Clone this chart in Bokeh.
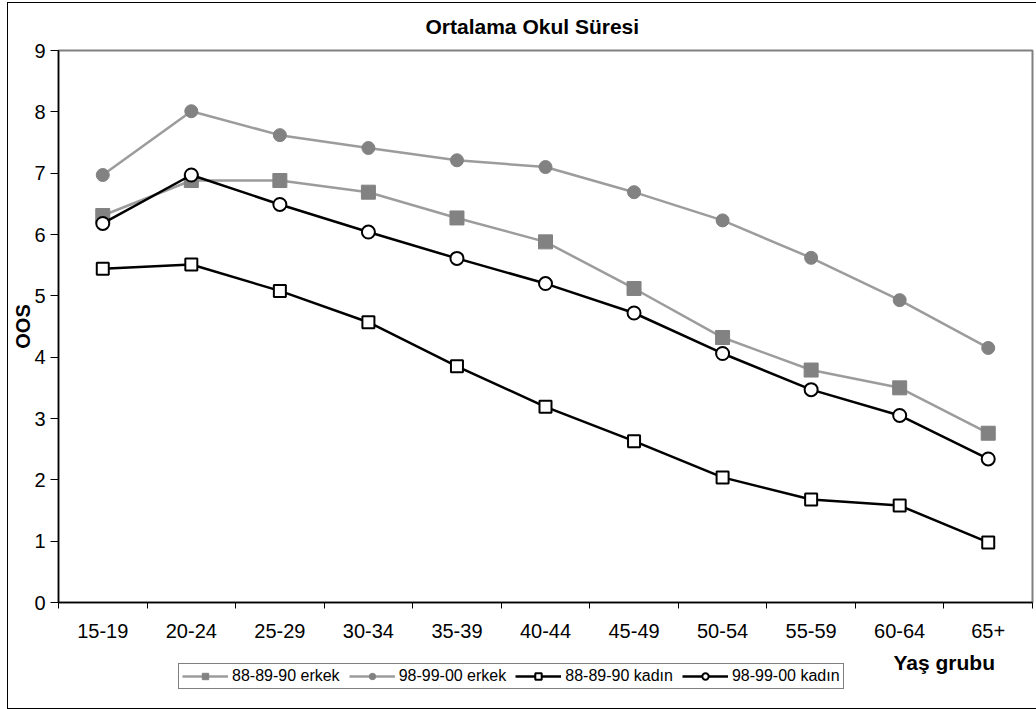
from bokeh.plotting import figure
from bokeh.layouts import column
from bokeh.models import FixedTicker, Legend, LegendItem, Range1d, Label
from bokeh.embed import file_html
from bokeh.resources import INLINE

categories = ["15-19", "20-24", "25-29", "30-34", "35-39", "40-44",
              "45-49", "50-54", "55-59", "60-64", "65+"]
erkek_8890 = [6.31, 6.88, 6.88, 6.69, 6.27, 5.88, 5.12, 4.32, 3.79, 3.50, 2.76]
erkek_9800 = [6.97, 8.01, 7.62, 7.41, 7.21, 7.10, 6.69, 6.23, 5.62, 4.93, 4.15]
kadin_8890 = [5.44, 5.51, 5.08, 4.57, 3.85, 3.19, 2.63, 2.04, 1.68, 1.58, 0.98]
kadin_9800 = [6.18, 6.97, 6.49, 6.04, 5.61, 5.20, 4.72, 4.06, 3.47, 3.05, 2.34]
y_ticks = [0, 1, 2, 3, 4, 5, 6, 7, 8, 9]
series_names = ["88-89-90 erkek", "98-99-00 erkek", "88-89-90 kadın", "98-99-00 kadın"]

FONT = "Liberation Sans"
xs = list(range(len(categories)))
GRAY_LINE = "#9c9c9c"
GRAY_MARK = "#828282"

p = figure(width=1028, height=647, output_backend="svg", toolbar_location=None,
           x_range=Range1d(-0.5, len(categories) - 0.5), y_range=Range1d(0, 9),
           min_border_left=50, min_border_right=4, min_border_top=46, min_border_bottom=48)

p.title.text = "Ortalama Okul Süresi"
p.title.align = "left"
p.title.offset = 367
p.title.vertical_align = "top"
p.title.text_font = FONT
p.title.text_font_size = "21px"
p.title.text_font_style = "bold"
p.title.text_color = "#000000"
p.title.standoff = 22

p.xgrid.visible = False
p.ygrid.visible = False
p.outline_line_color = "#808080"
p.outline_line_width = 2

# x axis
p.xaxis.ticker = FixedTicker(ticks=xs, minor_ticks=[i - 0.5 for i in range(len(categories) + 1)])
p.xaxis.major_label_overrides = {i: c for i, c in enumerate(categories)}
p.xaxis.major_tick_in = 0
p.xaxis.major_tick_out = 0
p.xaxis.minor_tick_in = 0
p.xaxis.minor_tick_out = 6
p.xaxis.minor_tick_line_color = "#000000"
p.xaxis.minor_tick_line_width = 1
p.xaxis.axis_line_color = "#000000"
p.xaxis.axis_line_width = 1.5
p.xaxis.major_label_text_font = FONT
p.xaxis.major_label_text_font_size = "20px"
p.xaxis.major_label_text_color = "#000000"
p.xaxis.major_label_standoff = 15

# y axis
p.yaxis.ticker = FixedTicker(ticks=y_ticks)
p.yaxis.minor_tick_line_color = None
p.yaxis.major_tick_in = 0
p.yaxis.major_tick_out = 8
p.yaxis.major_tick_line_color = "#000000"
p.yaxis.axis_line_color = "#000000"
p.yaxis.axis_line_width = 1.5
p.yaxis.major_label_text_font = FONT
p.yaxis.major_label_text_font_size = "20px"
p.yaxis.major_label_text_color = "#000000"
p.yaxis.major_label_standoff = 5
p.yaxis.axis_label = "OOS"
p.yaxis.axis_label_text_font = FONT
p.yaxis.axis_label_text_font_size = "20px"
p.yaxis.axis_label_text_font_style = "bold"
p.yaxis.axis_label_text_color = "#000000"
p.yaxis.axis_label_standoff = -3

series = [
    (erkek_8890, GRAY_LINE, "square", 14, GRAY_MARK, GRAY_MARK, 1),
    (erkek_9800, GRAY_LINE, "circle", 13, GRAY_MARK, GRAY_MARK, 1),
    (kadin_8890, "#000000", "square", 12, "#ffffff", "#000000", 2),
    (kadin_9800, "#000000", "circle", 13, "#ffffff", "#000000", 2),
]

for vals, lc, mk, sz, fc, mlc, mlw in series:
    p.line(xs, vals, line_color=lc, line_width=2.5)
    p.scatter(xs, vals, marker=mk, size=sz, fill_color=fc, line_color=mlc, line_width=mlw)

# strip below the chart holding the legend and the x-axis title
q = figure(width=1028, height=58, output_backend="svg", toolbar_location=None,
           x_range=Range1d(-0.5, len(categories) - 0.5), y_range=Range1d(0, 9),
           x_axis_location=None, y_axis_location=None,
           min_border_left=0, min_border_right=0, min_border_top=0, min_border_bottom=0)
q.xgrid.visible = False
q.ygrid.visible = False
q.outline_line_color = None

items = []
for name, (vals, lc, mk, sz, fc, mlc, mlw) in zip(series_names, series):
    rl = q.line(xs, vals, line_color=lc, line_width=2.5, visible=False)
    rm = q.scatter(xs, vals, marker=mk, size=sz, fill_color=fc, line_color=mlc,
                   line_width=mlw, visible=False)
    items.append(LegendItem(label=name, renderers=[rl, rm]))

legend = Legend(items=items, orientation="horizontal", location=(120, 19))
legend.label_text_font = FONT
legend.label_text_font_size = "16px"
legend.label_text_color = "#000000"
legend.glyph_width = 46
legend.glyph_height = 16
legend.label_height = 16
legend.label_standoff = 4
legend.spacing = 9
legend.padding = 3
legend.margin = 0
legend.border_line_color = "#000000"
legend.border_line_width = 1
legend.background_fill_alpha = 1
legend.inactive_fill_alpha = 0
q.add_layout(legend, "center")

xlabel = Label(x=835, y=46, x_units="screen", y_units="screen", text="Yaş grubu",
               text_font=FONT, text_font_size="21px", text_font_style="bold",
               text_color="#000000", text_baseline="alphabetic")
q.add_layout(xlabel)

layout = column(p, q, spacing=0)
layout.styles = {"margin-left": "7px", "margin-top": "2px",
                 "border-left": "1px solid #000", "border-top": "1px solid #000",
                 "border-bottom": "1px solid #000"}

open("out.html", "w").write(file_html(layout, INLINE))
